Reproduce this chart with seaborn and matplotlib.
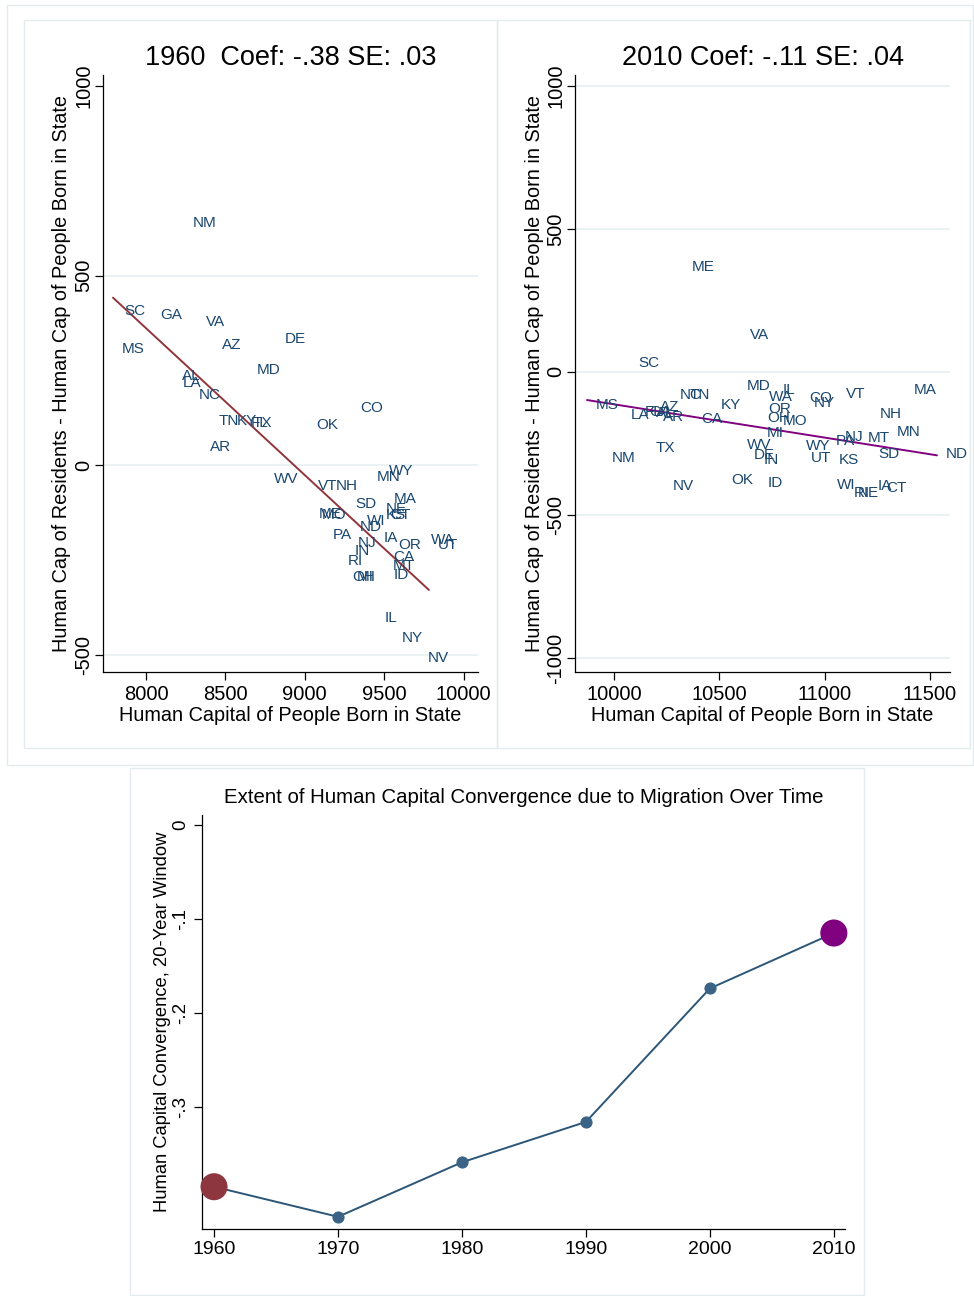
import numpy as np
import pandas as pd
import matplotlib
matplotlib.use("Agg")
import matplotlib.pyplot as plt
from matplotlib.patches import Rectangle
import seaborn as sns

# ---------------- data ----------------
states_1960 = ["NM", "SC", "GA", "VA", "MS", "AZ", "DE", "MD", "AL", "LA", "NC", "TN",
               "KY", "FL", "TX", "AR", "OK", "CO", "WV", "VT", "NH", "MN", "WY", "SD",
               "MA", "ME", "MO", "NE", "KS", "CT", "WI", "ND", "PA", "NJ", "IA", "OR",
               "WA", "UT", "IN", "RI", "CA", "MT", "OH", "MI", "ID", "IL", "NY", "NV"]
born_1960 = [8239, 7805, 8031, 8321, 7792, 8422, 8819, 8642, 8170, 8176, 8277, 8403,
             8516, 8605, 8617, 8346, 9014, 9291, 8749, 9026, 9140, 9398, 9474, 9259,
             9505, 9033, 9052, 9455, 9455, 9480, 9335, 9291, 9121, 9278, 9442, 9530,
             9738, 9782, 9259, 9215, 9499, 9499, 9240, 9272, 9505, 9448, 9555, 9719]
diff_1960 = [638, 406, 396, 377, 306, 317, 332, 251, 235, 216, 185, 116,
             116, 111, 111, 47, 106, 150, -37, -55, -55, -32, -16, -103,
             -90, -129, -132, -116, -132, -132, -148, -164, -185, -206, -193, -211,
             -198, -211, -227, -253, -243, -266, -295, -295, -290, -404, -456, -509]

states_2010 = ["ME", "VA", "SC", "MS", "NM", "TX", "NV", "LA", "FL", "GA", "AL", "AZ",
               "AR", "NC", "TN", "KY", "CA", "MD", "IL", "WA", "OR", "OH", "MO", "MI",
               "WV", "DE", "IN", "ID", "OK", "CO", "NY", "VT", "MA", "NH", "NJ", "PA",
               "MT", "MN", "WY", "UT", "KS", "SD", "ND", "WI", "RI", "NE", "IA", "CT"]
born_2010 = [10327, 10603, 10071, 9872, 9948, 10157, 10237, 10038, 10104, 10123, 10157, 10176,
             10190, 10271, 10318, 10465, 10370, 10589, 10759, 10693, 10688, 10683, 10759, 10683,
             10589, 10622, 10669, 10688, 10513, 10883, 10906, 11058, 11381, 11220, 11054, 11011,
             11163, 11300, 10869, 10892, 11025, 11210, 11533, 11016, 11096, 11115, 11210, 11248]
diff_2010 = [367, 129, 31, -115, -301, -266, -399, -150, -140, -140, -143, -122,
             -157, -80, -80, -115, -164, -49, -63, -87, -129, -161, -171, -213,
             -255, -290, -308, -388, -378, -91, -108, -77, -63, -147, -227, -241,
             -231, -210, -259, -301, -308, -287, -287, -395, -423, -423, -399, -406]

years = [1960, 1970, 1980, 1990, 2000, 2010]
convergence = [-0.385, -0.417, -0.359, -0.316, -0.174, -0.115]

panel_titles = ["1960  Coef: -.38 SE: .03", "2010 Coef: -.11 SE: .04"]
x_label_top = "Human Capital of People Born in State"
y_label_top = "Human Cap of Residents - Human Cap of People Born in State"
xticks_1960 = [8000, 8500, 9000, 9500, 10000]
xticks_2010 = [10000, 10500, 11000, 11500]
yticks_1960 = [-500, 0, 500, 1000]
yticks_2010 = [-1000, -500, 0, 500, 1000]

bottom_title = "Extent of Human Capital Convergence due to Migration Over Time"
bottom_ylabel = "Human Capital Convergence, 20-Year Window"
bottom_yticks = [0, -0.1, -0.2, -0.3]
bottom_yticklabels = ["0", "-.1", "-.2", "-.3"]

# ---------------- style ----------------
sns.set_theme(style="white")
plt.rcParams["font.family"] = ["Liberation Sans", "DejaVu Sans"]

NAVY = "#1A476F"
MAROON = "#90353B"
PURPLE = "#800080"
GRID = "#EAF2F3"
FRAME = "#E4EBEE"

W, H = 974, 1296
fig = plt.figure(figsize=(W / 100, H / 100), dpi=100)
fig.patch.set_facecolor("white")


def box(l, t, r, b):
    return [l / W, 1 - b / H, (r - l) / W, (b - t) / H]


def frame(l, t, r, b, color=FRAME):
    fig.patches.append(Rectangle((l / W, 1 - b / H), (r - l) / W, (b - t) / H,
                                 transform=fig.transFigure, fill=False,
                                 edgecolor=color, linewidth=1.0, zorder=0))


# panel frames
frame(7, 5, 973, 765)
frame(24, 20, 497, 748)
frame(497, 20, 970, 748)
frame(130, 768, 864, 1295)


def scatter_panel(ax, states, xs, ys, line_color, title, xticks, yticks, xlim, ylim,
                  hide_top_grid):
    df = pd.DataFrame({"born": xs, "diff": ys, "state": states})
    sns.regplot(data=df, x="born", y="diff", scatter=False, ci=None, truncate=True,
                color=line_color, line_kws={"linewidth": 1.4}, ax=ax)
    for s, x, y in zip(df["state"], df["born"], df["diff"]):
        ax.annotate(s, (x, y), xytext=(6.5, 0), textcoords="offset points",
                    ha="left", va="center", color=NAVY, fontsize=11, clip_on=False)
    ax.set_xlim(*xlim)
    ax.set_ylim(*ylim)
    ax.set_xticks(xticks)
    ax.set_yticks(yticks)
    ax.set_xticklabels([str(v) for v in xticks])
    ax.set_yticklabels([str(v) for v in yticks], rotation=90, va="center")
    ax.yaxis.grid(True, color=GRID, linewidth=1.5)
    ax.set_axisbelow(True)
    if hide_top_grid:
        ax.get_ygridlines()[-1].set_visible(False)
    for side in ["top", "right"]:
        ax.spines[side].set_visible(False)
    for side in ["left", "bottom"]:
        ax.spines[side].set_color("black")
        ax.spines[side].set_linewidth(0.9)
    ax.tick_params(axis="both", which="major", length=6, width=0.9, color="black",
                   direction="out", labelsize=14.5, labelcolor="black", pad=3,
                   left=True, bottom=True)
    ax.tick_params(axis="y", pad=1)
    ax.set_xlabel(x_label_top, fontsize=14.3, color="black", labelpad=2)
    ax.set_ylabel(y_label_top, fontsize=14.3, color="black", labelpad=2)
    ax.set_title(title, fontsize=19.5, color="black", pad=7)
    ax.set_facecolor("white")


ax1 = fig.add_axes(box(103, 75, 478, 672))
scatter_panel(ax1, states_1960, born_1960, diff_1960, MAROON, panel_titles[0],
              xticks_1960, yticks_1960, (7729, 10091), (-546, 1029), True)

ax2 = fig.add_axes(box(575, 75, 950, 672))
scatter_panel(ax2, states_2010, born_2010, diff_2010, PURPLE, panel_titles[1],
              xticks_2010, yticks_2010, (9815, 11595), (-1049, 1038), False)

# ---------------- convergence over time ----------------
ax3 = fig.add_axes(box(202, 815, 845, 1229))
conv = pd.DataFrame({"year": years, "coef": convergence})
sns.lineplot(data=conv, x="year", y="coef", color="#2B5678", linewidth=1.4,
             marker="o", markersize=8, markerfacecolor="#3A6385",
             markeredgecolor="#3A6385", ax=ax3, zorder=2)
ends = conv.iloc[[0, -1]].assign(which=["first", "last"])
sns.scatterplot(data=ends, x="year", y="coef", hue="which",
                palette={"first": "#8E3640", "last": PURPLE}, s=380,
                edgecolor="none", legend=False, ax=ax3, zorder=3, clip_on=False)
ax3.set_xlim(1959.03, 2010.9)
ax3.set_ylim(-0.430, 0.0106)
ax3.set_xticks(years)
ax3.set_xticklabels([str(y) for y in years], fontsize=14)
ax3.set_yticks(bottom_yticks)
ax3.set_yticklabels(bottom_yticklabels, rotation=90, va="center", fontsize=13.5)
for side in ["top", "right"]:
    ax3.spines[side].set_visible(False)
for side in ["left", "bottom"]:
    ax3.spines[side].set_color("black")
    ax3.spines[side].set_linewidth(0.9)
ax3.tick_params(axis="both", length=6, width=0.9, color="black", direction="out",
                labelcolor="black", pad=3, left=True, bottom=True)
ax3.set_xlabel("")
ax3.set_ylabel(bottom_ylabel, fontsize=13.2, color="black", labelpad=1)
ax3.set_title(bottom_title, fontsize=14.7, color="black", pad=9)

fig.savefig("out.png", dpi=100, facecolor="white")
